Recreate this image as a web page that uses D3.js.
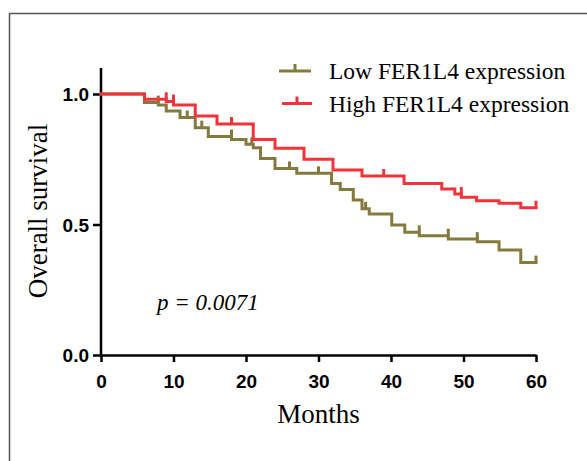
<!DOCTYPE html>
<html lang="en">
<head>
<meta charset="UTF-8">
<title>Overall survival</title>
<script src="https://d3js.org/d3.v7.min.js"></script>
<style>
  body { margin: 0; background: #fff; }
  svg { display: block; }
</style>
</head>
<body>
<script>
// Kaplan-Meier step points
const lowTimes = [0, 6, 7.9, 9, 10.9, 13, 14.8, 18, 20, 21, 22, 24, 27, 31.8, 33, 34.8, 36, 37, 40.1, 41.9, 43.9, 47.9, 51.9, 54.9, 57.9, 60];
const lowSurv  = [1, .967, .958, .935, .91, .871, .837, .826, .807, .794, .753, .715, .696, .657, .634, .594, .56, .54, .498, .47, .457, .444, .434, .402, .354, .354];
const lowCensor = [7.9, 11.9, 13.9, 18, 20.8, 26, 30, 36.5, 43.9, 47.9, 51.9, 60];

const highTimes = [0, 6, 9, 10, 13, 16, 21, 24, 28, 32, 36, 41.8, 47, 48.8, 49.7, 51.8, 54.9, 57.9, 60];
const highSurv  = [1, .98, .971, .958, .916, .885, .826, .792, .75, .709, .686, .657, .636, .617, .604, .591, .581, .564, .564];
const highCensor = [9, 10, 18, 39, 49.7, 60];

const groups = ["Low FER1L4 expression", "High FER1L4 expression"];
const colours = ["#857a3e", "#f0343a"];
const xTicks = [0, 10, 20, 30, 40, 50, 60];
const yTicks = [0, 0.5, 1.0];
const pText = "p = 0.0071";

const w = 587, h = 461;

const svg = d3.select("body").append("svg")
    .attr("width", w)
    .attr("height", h);

// outer frame
svg.append("rect")
    .attr("x", 9.5).attr("y", 13.5)
    .attr("width", 620).attr("height", 500)
    .attr("fill", "none")
    .attr("stroke", "#555")
    .attr("stroke-width", 1.5);

const x = d3.scaleLinear().domain([0, 60]).range([101, 536]);
const y = d3.scaleLinear().domain([0, 1]).range([355, 94]);

// axes
const xAxis = d3.axisBottom(x).tickValues(xTicks).tickFormat(d3.format("d")).tickSize(7).tickSizeOuter(0);
const yAxis = d3.axisLeft(y).tickValues(yTicks).tickFormat(d3.format(".1f")).tickSize(8).tickSizeOuter(0);

const gx = svg.append("g").attr("transform", "translate(0,355)").call(xAxis);
const gy = svg.append("g").attr("transform", "translate(101,0)").call(yAxis);

// y axis runs a little above 1.0
gy.select(".domain").attr("d", "M0," + (y(1.1)) + "V" + y(0));

[gx, gy].forEach(g => {
    g.select(".domain").attr("stroke", "#000").attr("stroke-width", 2.5);
    g.selectAll(".tick line").attr("stroke", "#000").attr("stroke-width", 2.5);
    g.selectAll(".tick text")
        .attr("fill", "#000")
        .style("font-family", "'Liberation Sans', Arial, sans-serif")
        .style("font-weight", "bold")
        .style("font-size", "19px");
});
gx.selectAll(".tick text").attr("dy", null).attr("y", 33);
gy.selectAll(".tick text").attr("x", -12).attr("dy", "0.36em");

// axis titles
svg.append("text")
    .attr("x", 318.5).attr("y", 423)
    .attr("text-anchor", "middle")
    .style("font-family", "'Liberation Serif', 'Times New Roman', serif")
    .style("font-size", "27px")
    .text("Months");

svg.append("text")
    .attr("transform", "translate(47,211) rotate(-90)")
    .attr("text-anchor", "middle")
    .style("font-family", "'Liberation Serif', 'Times New Roman', serif")
    .style("font-size", "27px")
    .text("Overall survival");

// curves
const series = [
    { times: lowTimes, surv: lowSurv, censor: lowCensor },
    { times: highTimes, surv: highSurv, censor: highCensor }
];

const line = d3.line()
    .x(d => x(d[0]))
    .y(d => y(d[1]))
    .curve(d3.curveStepAfter);

// level just before time t
function levelAt(s, t) {
    let i = d3.bisectLeft(s.times, t) - 1;
    if (i < 0) i = 0;
    return s.surv[i];
}

series.forEach((s, k) => {
    svg.append("path")
        .datum(s.times.map((t, i) => [t, s.surv[i]]))
        .attr("d", line)
        .attr("fill", "none")
        .attr("stroke", colours[k])
        .attr("stroke-width", 3)
        .attr("stroke-linejoin", "miter")
        .attr("stroke-linecap", "square");

    svg.selectAll(null)
        .data(s.censor)
        .enter()
        .append("line")
        .attr("x1", d => x(d)).attr("x2", d => x(d))
        .attr("y1", d => y(levelAt(s, d)))
        .attr("y2", d => y(levelAt(s, d)) - 7)
        .attr("stroke", colours[k])
        .attr("stroke-width", 3);
});

// legend
const legend = svg.append("g");
groups.forEach((name, k) => {
    const ly = 71 + k * 32.5;
    const lx0 = 279 + k * 3, lx1 = 311 + k;
    legend.append("line")
        .attr("x1", lx0).attr("x2", lx1)
        .attr("y1", ly).attr("y2", ly)
        .attr("stroke", colours[k]).attr("stroke-width", 3);
    legend.append("line")
        .attr("x1", (lx0 + lx1) / 2).attr("x2", (lx0 + lx1) / 2)
        .attr("y1", ly).attr("y2", ly - 7)
        .attr("stroke", colours[k]).attr("stroke-width", 3);
    legend.append("text")
        .attr("x", 329).attr("y", ly + 8)
        .style("font-family", "'Liberation Serif', 'Times New Roman', serif")
        .style("font-size", "23.5px")
        .text(name);
});

// p value
svg.append("text")
    .attr("x", 157).attr("y", 310)
    .style("font-family", "'Liberation Serif', 'Times New Roman', serif")
    .style("font-style", "italic")
    .style("font-size", "23px")
    .text(pText);
</script>
</body>
</html>
